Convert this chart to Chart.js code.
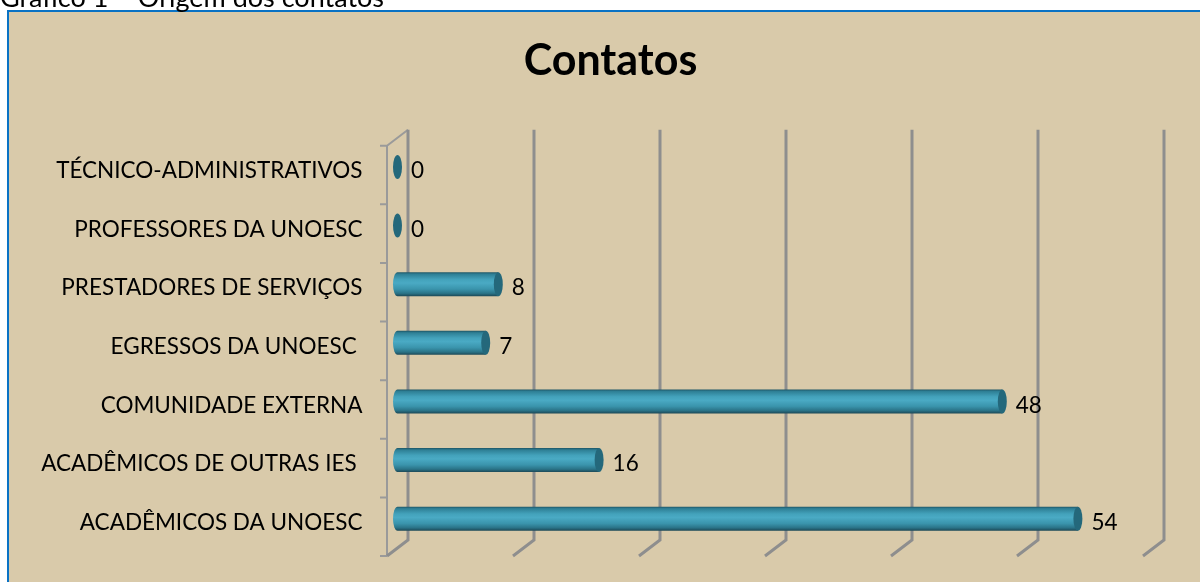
<!DOCTYPE html>
<html>
<head>
<meta charset="utf-8">
<script src="https://cdn.jsdelivr.net/npm/chart.js@4.4.1/dist/chart.umd.min.js"></script>
<style>
  html, body { margin: 0; padding: 0; background: #ffffff; overflow: hidden; }
  #wrap { position: relative; width: 1200px; height: 582px; }
  #caption { position: absolute; left: 0; top: -17px; font-family: Lato, sans-serif; font-size: 27px; color: #000; white-space: nowrap; z-index: 2; line-height: 27px; }
  canvas { position: absolute; left: 0; top: 0; }
</style>
</head>
<body>
<div id="wrap">
  <canvas id="c" width="1200" height="582"></canvas>
  <div id="caption">Gráfico 1 – Origem dos contatos</div>
</div>
<script>
const chartTitle = 'Contatos';
const categories = [
  'TÉCNICO-ADMINISTRATIVOS',
  'PROFESSORES DA UNOESC',
  'PRESTADORES DE SERVIÇOS',
  'EGRESSOS DA UNOESC ',
  'COMUNIDADE EXTERNA',
  'ACADÊMICOS DE OUTRAS IES ',
  'ACADÊMICOS DA UNOESC'
];
const contatos = [0, 0, 8, 7, 48, 16, 54];
const xTicks = [0, 10, 20, 30, 40, 50, 60];

const FONT = 'Lato, "Noto Sans", sans-serif';
const DEPTH = 8;      // half vertical 3D offset
const DEPTHX = 10.5;  // half horizontal 3D offset

const framePlugin = {
  id: 'frame',
  beforeDraw(chart) {
    const ctx = chart.ctx;
    ctx.save();
    ctx.fillStyle = '#ffffff';
    ctx.fillRect(0, 0, chart.width, chart.height);
    ctx.fillStyle = '#D9CAAA';
    ctx.fillRect(8, 10, 1300, 700);
    ctx.strokeStyle = '#0A72C4';
    ctx.lineWidth = 2;
    ctx.strokeRect(8, 11, 1300, 700);
    // chart title
    ctx.fillStyle = '#000000';
    ctx.font = 'bold 43px ' + FONT;
    ctx.textAlign = 'center';
    ctx.textBaseline = 'alphabetic';
    ctx.fillText(chartTitle, 610.5, 75);
    ctx.restore();
  }
};

const gridPlugin = {
  id: 'grid3d',
  beforeDatasetsDraw(chart) {
    const ctx = chart.ctx;
    const xs = chart.scales.x;
    const top = chart.chartArea.top, bottom = chart.chartArea.bottom;
    ctx.save();
    ctx.lineCap = 'butt';
    const x0 = xs.getPixelForValue(0);
    ctx.strokeStyle = '#9A9A9A';
    ctx.lineWidth = 2;
    ctx.beginPath();
    ctx.moveTo(x0 - DEPTHX, top + DEPTH);
    ctx.lineTo(x0 - DEPTHX, bottom + DEPTH);
    const n = categories.length;
    for (let i = 0; i <= n; i++) {
      const y = top + (bottom - top) * i / n + DEPTH;
      ctx.moveTo(x0 - DEPTHX - 7, y);
      ctx.lineTo(x0 - DEPTHX, y);
    }
    ctx.moveTo(x0 - DEPTHX, top + DEPTH);
    ctx.lineTo(x0 + DEPTHX, top - DEPTH);
    ctx.stroke();
    ctx.strokeStyle = '#8E8E8E';
    ctx.lineWidth = 3;
    xTicks.forEach(v => {
      const px = xs.getPixelForValue(v);
      ctx.beginPath();
      ctx.moveTo(px + DEPTHX, top - DEPTH);
      ctx.lineTo(px + DEPTHX, bottom - DEPTH);
      ctx.lineTo(px - DEPTHX, bottom + DEPTH);
      ctx.stroke();
    });
    ctx.restore();
  }
};

const cylinderPlugin = {
  id: 'cylinders',
  afterDatasetsDraw(chart) {
    const ctx = chart.ctx;
    const meta = chart.getDatasetMeta(0);
    ctx.save();
    meta.data.forEach((bar, i) => {
      const p = bar.getProps(['x', 'y', 'base', 'height'], true);
      const h = p.height;
      const y0 = p.y - h / 2;
      const rx = 4.5;
      const grad = ctx.createLinearGradient(0, y0, 0, y0 + h);
      grad.addColorStop(0, '#1E5666');
      grad.addColorStop(0.08, '#2E7F95');
      grad.addColorStop(0.3, '#43A2BB');
      grad.addColorStop(0.45, '#4AAAC4');
      grad.addColorStop(0.7, '#3A94AC');
      grad.addColorStop(0.88, '#2A7387');
      grad.addColorStop(1, '#1C4856');
      if (p.x - p.base > 0.5) {
        ctx.fillStyle = grad;
        ctx.beginPath();
        ctx.ellipse(p.base, p.y, rx, h / 2, 0, Math.PI / 2, Math.PI * 1.5);
        ctx.lineTo(p.x, y0);
        ctx.lineTo(p.x, y0 + h);
        ctx.closePath();
        ctx.fill();
      }
      ctx.fillStyle = '#24687B';
      ctx.beginPath();
      ctx.ellipse(p.x, p.y, rx, h / 2, 0, 0, Math.PI * 2);
      ctx.fill();
      ctx.fillStyle = '#000000';
      ctx.font = '22.5px ' + FONT;
      ctx.textAlign = 'left';
      ctx.textBaseline = 'middle';
      ctx.fillText(String(contatos[i]), p.x + rx + 9, p.y + 4);
    });
    ctx.restore();
  }
};

Chart.defaults.font.family = FONT;
Chart.defaults.color = '#000000';

new Chart(document.getElementById('c'), {
  type: 'bar',
  data: {
    labels: categories,
    datasets: [{
      label: chartTitle,
      data: contatos,
      backgroundColor: 'rgba(0,0,0,0)',
      borderWidth: 0,
      barThickness: 24
    }]
  },
  options: {
    indexAxis: 'y',
    responsive: false,
    animation: false,
    layout: { padding: { left: 0, right: 46.5, top: 137.7, bottom: 34 } },
    plugins: {
      legend: { display: false },
      tooltip: { enabled: false },
      title: { display: false }
    },
    scales: {
      x: {
        display: false,
        min: 0,
        max: 60,
        ticks: { stepSize: 10 }
      },
      y: {
        grid: { display: false, drawTicks: false },
        border: { display: false },
        ticks: {
          font: { size: 22.5, family: FONT },
          color: '#000000',
          padding: 35,
          labelOffset: 4
        },
        afterFit(scale) {
          scale.width = 397.5;
          scale.paddingTop = 0;
          scale.paddingBottom = 0;
        }
      }
    }
  },
  plugins: [framePlugin, gridPlugin, cylinderPlugin]
});
</script>
</body>
</html>
